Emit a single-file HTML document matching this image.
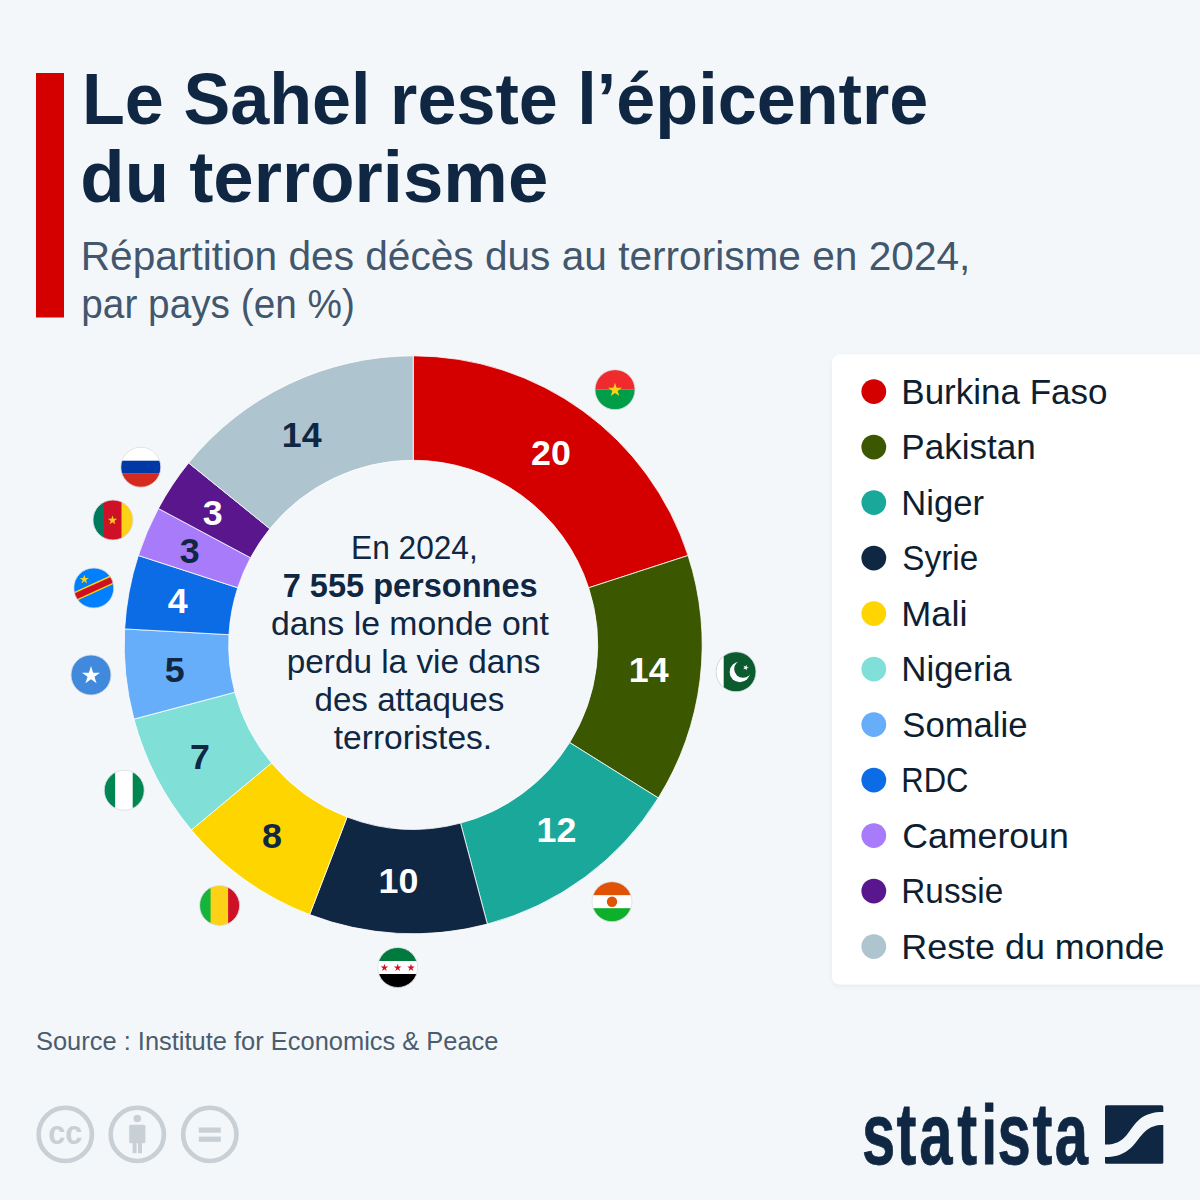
<!DOCTYPE html>
<html lang="fr"><head><meta charset="utf-8"><title>Le Sahel reste l’épicentre du terrorisme</title>
<style>html,body{margin:0;padding:0;background:#f4f7fa;}body{width:1200px;height:1200px;overflow:hidden;}svg{display:block;}</style>
</head><body>
<svg width="1200" height="1200" viewBox="0 0 1200 1200" font-family="'Liberation Sans', Arial, sans-serif">
<rect width="1200" height="1200" fill="#f4f7fa"/>
<rect x="36" y="73" width="28" height="244.5" fill="#d40000"/>
<defs><filter id="sh" x="-5%" y="-5%" width="110%" height="110%"><feDropShadow dx="0" dy="2" stdDeviation="2.5" flood-color="#000" flood-opacity="0.05"/></filter></defs>
<rect x="832" y="354.5" width="380" height="630" rx="8" fill="#ffffff" filter="url(#sh)"/>
<path d="M413.20,355.80 A289.0,289.0 0 0 1 688.06,555.49 L588.67,587.79 A184.5,184.5 0 0 0 413.20,460.30 Z" fill="#d40000" stroke="#ffffff" stroke-width="0.8" stroke-linejoin="round"/><path d="M688.06,555.49 A289.0,289.0 0 0 1 658.29,797.95 L569.66,742.57 A184.5,184.5 0 0 0 588.67,587.79 Z" fill="#3b5700" stroke="#ffffff" stroke-width="0.8" stroke-linejoin="round"/><path d="M658.29,797.95 A289.0,289.0 0 0 1 487.37,924.12 L460.55,823.12 A184.5,184.5 0 0 0 569.66,742.57 Z" fill="#1aa89b" stroke="#ffffff" stroke-width="0.8" stroke-linejoin="round"/><path d="M487.37,924.12 A289.0,289.0 0 0 1 309.63,914.60 L347.08,817.05 A184.5,184.5 0 0 0 460.55,823.12 Z" fill="#0f2742" stroke="#ffffff" stroke-width="0.8" stroke-linejoin="round"/><path d="M309.63,914.60 A289.0,289.0 0 0 1 191.33,829.99 L271.55,763.02 A184.5,184.5 0 0 0 347.08,817.05 Z" fill="#ffd500" stroke="#ffffff" stroke-width="0.8" stroke-linejoin="round"/><path d="M191.33,829.99 A289.0,289.0 0 0 1 133.92,719.11 L234.90,692.24 A184.5,184.5 0 0 0 271.55,763.02 Z" fill="#80e0d8" stroke="#ffffff" stroke-width="0.8" stroke-linejoin="round"/><path d="M133.92,719.11 A289.0,289.0 0 0 1 124.64,628.92 L228.98,634.66 A184.5,184.5 0 0 0 234.90,692.24 Z" fill="#66adfa" stroke="#ffffff" stroke-width="0.8" stroke-linejoin="round"/><path d="M124.64,628.92 A289.0,289.0 0 0 1 138.34,555.49 L237.73,587.79 A184.5,184.5 0 0 0 228.98,634.66 Z" fill="#0b6ce6" stroke="#ffffff" stroke-width="0.8" stroke-linejoin="round"/><path d="M138.34,555.49 A289.0,289.0 0 0 1 158.38,508.46 L250.52,557.76 A184.5,184.5 0 0 0 237.73,587.79 Z" fill="#a77bfa" stroke="#ffffff" stroke-width="0.8" stroke-linejoin="round"/><path d="M158.38,508.46 A289.0,289.0 0 0 1 188.60,462.93 L269.82,528.69 A184.5,184.5 0 0 0 250.52,557.76 Z" fill="#5a168c" stroke="#ffffff" stroke-width="0.8" stroke-linejoin="round"/><path d="M188.60,462.93 A289.0,289.0 0 0 1 413.20,355.80 L413.20,460.30 A184.5,184.5 0 0 0 269.82,528.69 Z" fill="#aec4cf" stroke="#ffffff" stroke-width="0.8" stroke-linejoin="round"/>
<text x="551.0" y="464.7" text-anchor="middle" font-weight="700" font-size="35.8" fill="#fff">20</text><text x="648.7" y="682.0" text-anchor="middle" font-weight="700" font-size="35.8" fill="#fff">14</text><text x="556.5" y="842.0" text-anchor="middle" font-weight="700" font-size="35.8" fill="#fff">12</text><text x="398.5" y="893.3" text-anchor="middle" font-weight="700" font-size="35.8" fill="#fff">10</text><text x="272.0" y="847.5" text-anchor="middle" font-weight="700" font-size="35.8" fill="#0f2742">8</text><text x="200.0" y="768.75" text-anchor="middle" font-weight="700" font-size="35.8" fill="#0f2742">7</text><text x="174.75" y="682.0" text-anchor="middle" font-weight="700" font-size="35.8" fill="#0f2742">5</text><text x="177.75" y="613.0" text-anchor="middle" font-weight="700" font-size="35.8" fill="#fff">4</text><text x="189.7" y="562.7" text-anchor="middle" font-weight="700" font-size="35.8" fill="#0f2742">3</text><text x="212.7" y="525.0" text-anchor="middle" font-weight="700" font-size="35.8" fill="#fff">3</text><text x="301.7" y="446.75" text-anchor="middle" font-weight="700" font-size="35.8" fill="#0f2742">14</text>
<g transform="translate(615,389.7)"><clipPath id="fBF"><circle r="20"/></clipPath><g clip-path="url(#fBF)"><rect x="-20" y="-20" width="40" height="20" fill="#ef2b2d"/><rect x="-20" y="0" width="40" height="20" fill="#009e49"/><polygon points="0.00,-6.90 1.64,-1.86 6.94,-1.86 2.65,1.26 4.29,6.31 0.00,3.19 -4.29,6.31 -2.65,1.26 -6.94,-1.86 -1.64,-1.86" fill="#fcd116"/></g><circle r="20" fill="none" stroke="#d9dde2" stroke-width="0.8"/></g><g transform="translate(736,671.8)"><clipPath id="fPK"><circle r="20"/></clipPath><g clip-path="url(#fPK)"><rect x="-20" y="-20" width="40" height="40" fill="#0c5b2f"/><rect x="-20" y="-20" width="7.7" height="40" fill="#ffffff"/><circle cx="3.8" cy="0.2" r="10.2" fill="#fff"/><circle cx="7" cy="-2.8" r="8.8" fill="#0c5b2f"/><polygon points="10.86,-7.11 10.78,-4.86 12.90,-4.09 10.73,-3.47 10.65,-1.22 9.39,-3.09 7.23,-2.47 8.62,-4.24 7.36,-6.11 9.47,-5.34" fill="#fff"/></g><circle r="20" fill="none" stroke="#d9dde2" stroke-width="0.8"/></g><g transform="translate(612,901.7)"><clipPath id="fNE"><circle r="20"/></clipPath><g clip-path="url(#fNE)"><rect x="-20" y="-20" width="40" height="14" fill="#e05206"/><rect x="-20" y="-6.5" width="40" height="13" fill="#fff"/><rect x="-20" y="6.5" width="40" height="14" fill="#0db02b"/><circle r="5.2" fill="#e05206"/></g><circle r="20" fill="none" stroke="#d9dde2" stroke-width="0.8"/></g><g transform="translate(397.7,967.5)"><clipPath id="fSY"><circle r="20"/></clipPath><g clip-path="url(#fSY)"><rect x="-20" y="-20" width="40" height="14" fill="#007a3d"/><rect x="-20" y="-6.5" width="40" height="13" fill="#fff"/><rect x="-20" y="6.5" width="40" height="14" fill="#000"/><polygon points="-13.30,-3.70 -12.40,-0.94 -9.50,-0.94 -11.85,0.77 -10.95,3.54 -13.30,1.83 -15.65,3.54 -14.75,0.77 -17.10,-0.94 -14.20,-0.94" fill="#ce1126"/><polygon points="0.00,-3.70 0.90,-0.94 3.80,-0.94 1.45,0.77 2.35,3.54 0.00,1.83 -2.35,3.54 -1.45,0.77 -3.80,-0.94 -0.90,-0.94" fill="#ce1126"/><polygon points="13.30,-3.70 14.20,-0.94 17.10,-0.94 14.75,0.77 15.65,3.54 13.30,1.83 10.95,3.54 11.85,0.77 9.50,-0.94 12.40,-0.94" fill="#ce1126"/></g><circle r="20" fill="none" stroke="#d9dde2" stroke-width="0.8"/></g><g transform="translate(219.6,905.5)"><clipPath id="fML"><circle r="20"/></clipPath><g clip-path="url(#fML)"><rect x="-20" y="-20" width="11.5" height="40" fill="#14b53a"/><rect x="-9" y="-20" width="18" height="40" fill="#fcd116"/><rect x="8.5" y="-20" width="12" height="40" fill="#ce1126"/></g><circle r="20" fill="none" stroke="#d9dde2" stroke-width="0.8"/></g><g transform="translate(124.2,790.3)"><clipPath id="fNG"><circle r="20"/></clipPath><g clip-path="url(#fNG)"><rect x="-20" y="-20" width="11.5" height="40" fill="#008751"/><rect x="-9" y="-20" width="18" height="40" fill="#fff"/><rect x="8.5" y="-20" width="12" height="40" fill="#008751"/></g><circle r="20" fill="none" stroke="#d9dde2" stroke-width="0.8"/></g><g transform="translate(91,675)"><clipPath id="fSO"><circle r="20"/></clipPath><g clip-path="url(#fSO)"><rect x="-20" y="-20" width="40" height="40" fill="#4189dd"/><polygon points="0.00,-8.90 2.13,-2.34 9.04,-2.34 3.45,1.72 5.58,8.29 0.00,4.23 -5.58,8.29 -3.45,1.72 -9.04,-2.34 -2.13,-2.34" fill="#fff"/></g><circle r="20" fill="none" stroke="#d9dde2" stroke-width="0.8"/></g><g transform="translate(93.8,588)"><clipPath id="fCD"><circle r="20"/></clipPath><g clip-path="url(#fCD)"><rect x="-20" y="-20" width="40" height="40" fill="#007fff"/><g transform="rotate(-24.5)"><rect x="-30" y="-4.6" width="60" height="9.2" fill="#f7d618"/><rect x="-30" y="-3.1" width="60" height="6.2" fill="#ce1021"/></g><polygon points="-9.50,-13.30 -8.42,-9.98 -4.93,-9.98 -7.76,-7.93 -6.68,-4.62 -9.50,-6.67 -12.32,-4.62 -11.24,-7.93 -14.07,-9.98 -10.58,-9.98" fill="#f7d618"/></g><circle r="20" fill="none" stroke="#d9dde2" stroke-width="0.8"/></g><g transform="translate(113,520)"><clipPath id="fCM"><circle r="20"/></clipPath><g clip-path="url(#fCM)"><rect x="-20" y="-20" width="11.5" height="40" fill="#007a5e"/><rect x="-9" y="-20" width="18" height="40" fill="#ce1126"/><rect x="8.5" y="-20" width="12" height="40" fill="#fcd116"/><polygon points="-0.50,-4.60 0.60,-1.21 4.16,-1.21 1.28,0.88 2.38,4.26 -0.50,2.17 -3.38,4.26 -2.28,0.88 -5.16,-1.21 -1.60,-1.21" fill="#fcd116"/></g><circle r="20" fill="none" stroke="#d9dde2" stroke-width="0.8"/></g><g transform="translate(140.8,467.2)"><clipPath id="fRU"><circle r="20"/></clipPath><g clip-path="url(#fRU)"><rect x="-20" y="-20" width="40" height="14" fill="#fff"/><rect x="-20" y="-6.5" width="40" height="13" fill="#0039a6"/><rect x="-20" y="6.5" width="40" height="14" fill="#d52b1e"/></g><circle r="20" fill="none" stroke="#d9dde2" stroke-width="0.8"/></g>
<circle cx="873.8" cy="391.60" r="12.4" fill="#d40000"/><circle cx="873.8" cy="447.10" r="12.4" fill="#3b5700"/><circle cx="873.8" cy="502.60" r="12.4" fill="#1aa89b"/><circle cx="873.8" cy="558.10" r="12.4" fill="#0f2742"/><circle cx="873.8" cy="613.60" r="12.4" fill="#ffd500"/><circle cx="873.8" cy="669.10" r="12.4" fill="#80e0d8"/><circle cx="873.8" cy="724.60" r="12.4" fill="#66adfa"/><circle cx="873.8" cy="780.10" r="12.4" fill="#0b6ce6"/><circle cx="873.8" cy="835.60" r="12.4" fill="#a77bfa"/><circle cx="873.8" cy="891.10" r="12.4" fill="#5a168c"/><circle cx="873.8" cy="946.60" r="12.4" fill="#aec4cf"/>
<circle cx="65.3" cy="1134.4" r="26.6" fill="none" stroke="#c8cfd5" stroke-width="4.6"/><text x="48.3" y="1144.3" font-weight="700" font-size="34" fill="#c8cfd5" textLength="34" lengthAdjust="spacingAndGlyphs">cc</text><circle cx="137.3" cy="1134.4" r="26.6" fill="none" stroke="#c8cfd5" stroke-width="4.6"/><circle cx="137.3" cy="1118.5" r="3.8" fill="#c8cfd5"/><rect x="129.2" y="1124.8" width="16.2" height="18.5" rx="1.5" fill="#c8cfd5"/><rect x="132.6" y="1142" width="4" height="11.2" fill="#c8cfd5"/><rect x="138" y="1142" width="4" height="11.2" fill="#c8cfd5"/><circle cx="209.8" cy="1134.4" r="26.6" fill="none" stroke="#c8cfd5" stroke-width="4.6"/><rect x="198.8" y="1127.5" width="22" height="5.2" fill="#c8cfd5"/><rect x="198.8" y="1136.6" width="22" height="5.2" fill="#c8cfd5"/>
<text x="1267.78 1318.24 1351.72 1407.87 1442.95 1467.04 1518.31 1550.99" y="0" font-weight="700" font-size="88" fill="#0f2742" stroke="#0f2742" stroke-width="0.8" stroke-linejoin="round" transform="translate(0,1163.5) scale(0.68,1)">stat<tspan font-size="84">i</tspan>sta</text><g transform="translate(1105,1105.3)"><rect width="58.3" height="58.4" rx="1.5" fill="#0f2742"/><path d="M-1,39.3 L0,39.3 C31,40.3 20.5,6.5 58.3,6.8 L59.5,6.8 L59.5,19.7 L58.3,19.7 C29,19.2 37.3,51.7 0,51.7 L-1,51.7 Z" fill="#f4f7fa"/></g>
<text x="82.00" y="124.00" font-weight="700" font-size="73" fill="#0f2742" textLength="846.30" lengthAdjust="spacingAndGlyphs">Le Sahel reste l’épicentre</text><text x="80.30" y="202.00" font-weight="700" font-size="73" fill="#0f2742" textLength="468.00" lengthAdjust="spacingAndGlyphs">du terrorisme</text><text x="80.75" y="269.60" font-weight="400" font-size="40.5" fill="#42576d" textLength="889.60" lengthAdjust="spacingAndGlyphs">Répartition des décès dus au terrorisme en 2024,</text><text x="81.30" y="317.50" font-weight="400" font-size="40.5" fill="#42576d" textLength="273.69" lengthAdjust="spacingAndGlyphs">par pays (en %)</text><text x="351.10" y="558.75" font-weight="400" font-size="33" fill="#0f2742" textLength="126.67" lengthAdjust="spacingAndGlyphs">En 2024,</text><text x="282.75" y="596.90" font-weight="700" font-size="33" fill="#0f2742" textLength="254.85" lengthAdjust="spacingAndGlyphs">7 555 personnes</text><text x="271.00" y="634.50" font-weight="400" font-size="33" fill="#0f2742" textLength="277.92" lengthAdjust="spacingAndGlyphs">dans le monde ont</text><text x="286.75" y="672.50" font-weight="400" font-size="33" fill="#0f2742" textLength="253.75" lengthAdjust="spacingAndGlyphs">perdu la vie dans</text><text x="314.50" y="711.00" font-weight="400" font-size="33" fill="#0f2742" textLength="189.75" lengthAdjust="spacingAndGlyphs">des attaques</text><text x="333.75" y="748.75" font-weight="400" font-size="33" fill="#0f2742" textLength="158.42" lengthAdjust="spacingAndGlyphs">terroristes.</text><text x="36.00" y="1049.60" font-weight="400" font-size="25" fill="#4a5c6e" textLength="462.50" lengthAdjust="spacingAndGlyphs">Source : Institute for Economics &amp; Peace</text><text x="901.30" y="403.60" font-weight="400" font-size="35" fill="#0e1e30" textLength="206.17" lengthAdjust="spacingAndGlyphs">Burkina Faso</text><text x="901.30" y="459.10" font-weight="400" font-size="35" fill="#0e1e30" textLength="134.47" lengthAdjust="spacingAndGlyphs">Pakistan</text><text x="901.30" y="514.60" font-weight="400" font-size="35" fill="#0e1e30" textLength="82.66" lengthAdjust="spacingAndGlyphs">Niger</text><text x="902.30" y="570.10" font-weight="400" font-size="35" fill="#0e1e30" textLength="75.87" lengthAdjust="spacingAndGlyphs">Syrie</text><text x="901.30" y="625.60" font-weight="400" font-size="35" fill="#0e1e30" textLength="66.18" lengthAdjust="spacingAndGlyphs">Mali</text><text x="901.30" y="681.10" font-weight="400" font-size="35" fill="#0e1e30" textLength="110.47" lengthAdjust="spacingAndGlyphs">Nigeria</text><text x="902.30" y="736.60" font-weight="400" font-size="35" fill="#0e1e30" textLength="125.17" lengthAdjust="spacingAndGlyphs">Somalie</text><text x="901.30" y="792.10" font-weight="400" font-size="35" fill="#0e1e30" textLength="67.08" lengthAdjust="spacingAndGlyphs">RDC</text><text x="902.30" y="847.60" font-weight="400" font-size="35" fill="#0e1e30" textLength="166.47" lengthAdjust="spacingAndGlyphs">Cameroun</text><text x="901.30" y="903.10" font-weight="400" font-size="35" fill="#0e1e30" textLength="101.87" lengthAdjust="spacingAndGlyphs">Russie</text><text x="901.30" y="958.60" font-weight="400" font-size="35" fill="#0e1e30" textLength="263.27" lengthAdjust="spacingAndGlyphs">Reste du monde</text>
</svg>
</body></html>
